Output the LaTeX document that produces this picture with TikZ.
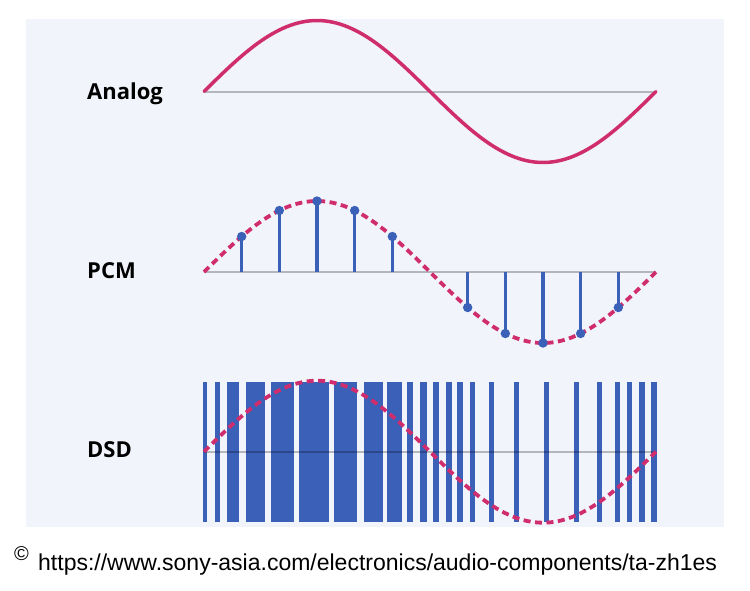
\documentclass[tikz,border=0pt]{standalone}
\usepackage{fontspec}
\setmainfont{Liberation Sans}
\newfontfamily\labelfont{Open Sans}
\definecolor{wavepink}{RGB}{207,45,110}
\definecolor{bitblue}{RGB}{58,96,184}
\definecolor{panelbg}{RGB}{241,244,250}
\begin{document}
\begin{tikzpicture}[x=1pt,y=-1pt,
    axisline/.style={black,opacity=.25,line width=2pt},
    wave/.style={wavepink,line width=3.5pt,line cap=round},
    dashwave/.style={wavepink,line width=3.8pt,dash pattern=on 7pt off 4.5pt},
    stem/.style={bitblue,line width=3.6pt},
    tag/.style={font=\labelfont\bfseries\fontsize{22}{26}\selectfont,anchor=base west,inner sep=0pt}]
\useasboundingbox (0,0) rectangle (750,590);
\fill[white] (0,0) rectangle (750,590);
\fill[panelbg] (26,19) rectangle (724,527);
% analog
\node[tag] (analog) at (87,99) {Analog};
\draw[axisline] (204,91.5) -- (656,91.5);
\draw[wave] plot[domain=0:360,samples=120] ({204+\x/360*452},{91.5-71*sin(\x)});
% pcm
\node[tag] (pcm) at (87,278) {PCM};
\draw[axisline] (204,272) -- (656,272);
\draw[dashwave] plot[domain=0:360,samples=120] ({204+\x/360*452},{272-71*sin(\x)});
\foreach \i in {1,2,3,4,5,7,8,9,10,11} {
    \draw[stem] ({204+\i*452/12},272) -- ({204+\i*452/12},{272-71*sin(\i*30)});
    \fill[bitblue] ({204+\i*452/12},{272-71*sin(\i*30)}) circle (4.7);
}
% dsd
\node[tag] (dsd) at (87,457) {DSD};
\foreach \a/\b in {203.3/207.3, 215/220, 226.7/239.3, 245.7/265, 271/294,
    298.7/329, 334.3/357.3, 364.3/382.7, 387.3/402, 407.3/413.3, 420/426.7,
    433.3/439.3, 446/451.7, 457.3/462.7, 470/475.3, 489/494.3, 514/519.3,
    543.7/549, 574/579, 596.7/602.3, 614.7/620, 627/632.3, 639.3/644.7, 651.3/656.7}
    \fill[bitblue] (\a,381.5) rectangle (\b,521.7);
\draw[axisline] (204,451.7) -- (656,451.7);
\draw[dashwave] plot[domain=0:360,samples=120] ({204+\x/360*452},{451.7-71*sin(\x)});
% source
\node[anchor=base west,inner sep=0pt,font=\fontsize{20}{22}\selectfont] (copy) at (14,560) {©};
\node[anchor=base west,inner sep=0pt,font=\fontsize{23}{27}\selectfont] (url) at (38,570)
    {https://www.sony-asia.com/electronics/audio-components/ta-zh1es};
\end{tikzpicture}
\end{document}
